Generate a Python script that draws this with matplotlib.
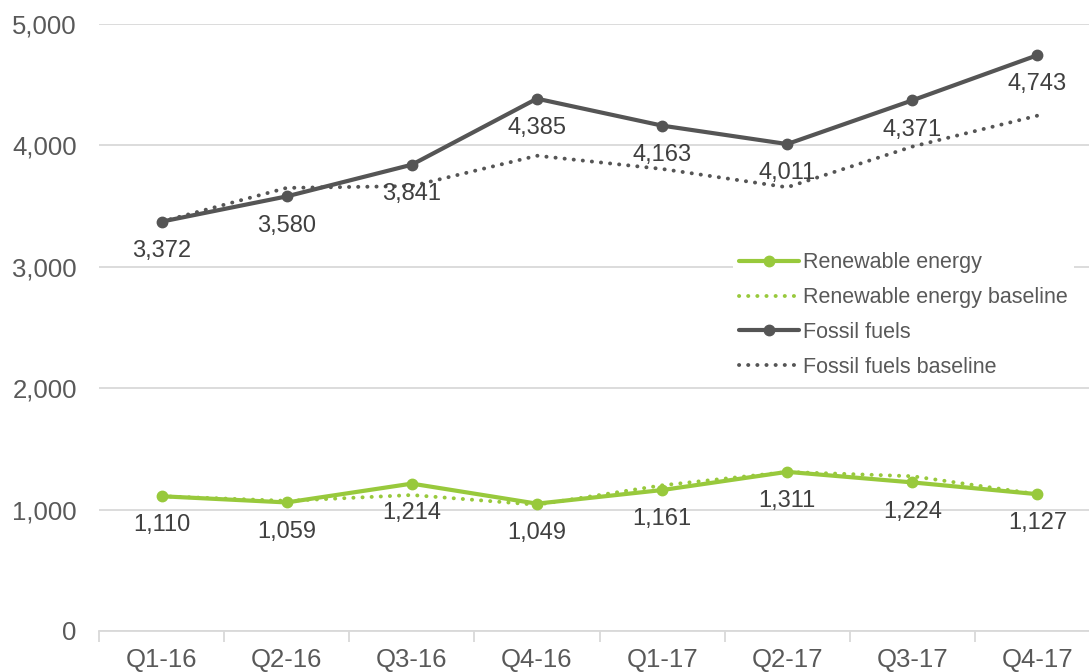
import matplotlib
matplotlib.use("Agg")
import matplotlib.pyplot as plt
from matplotlib.ticker import FuncFormatter, FixedLocator

quarters = ["Q1-16", "Q2-16", "Q3-16", "Q4-16", "Q1-17", "Q2-17", "Q3-17", "Q4-17"]
renewable = [1110, 1059, 1214, 1049, 1161, 1311, 1224, 1127]
renewable_baseline = [1110, 1072, 1120, 1040, 1200, 1310, 1275, 1127]
fossil = [3372, 3580, 3841, 4385, 4163, 4011, 4371, 4743]
fossil_baseline = [3372, 3650, 3665, 3915, 3806, 3655, 3990, 4245]

GREEN = "#98C93C"
DARK = "#555555"
TEXT = "#595959"
GRID = "#D9D9D9"
DOTS = (0, (0.05, 2.3))

plt.rcParams["font.family"] = ["Liberation Sans", "DejaVu Sans"]

fig = plt.figure(figsize=(10.89, 6.72), dpi=100)
ax = fig.add_axes([99 / 1089, 41 / 672, 1001 / 1089, 607 / 672])

x = list(range(len(quarters)))

ax.plot(x, renewable, color=GREEN, lw=3, marker="o", ms=7.5,
        label="Renewable energy", zorder=4, solid_capstyle="round")
ax.plot(x, renewable_baseline, color=GREEN, lw=2.8, linestyle=DOTS,
        dash_capstyle="round", label="Renewable energy baseline", zorder=3)
ax.plot(x, fossil, color=DARK, lw=3, marker="o", ms=7.5,
        label="Fossil fuels", zorder=4, solid_capstyle="round")
ax.plot(x, fossil_baseline, color=DARK, lw=2.8, linestyle=DOTS,
        dash_capstyle="round", label="Fossil fuels baseline", zorder=3)

# data labels under the points
for xi, v in zip(x, renewable):
    ax.annotate(f"{v:,}", (xi, v), xytext=(0, -21), textcoords="offset points",
                ha="center", va="center", fontsize=17, color="#404040", zorder=5)
for xi, v in zip(x, fossil):
    ax.annotate(f"{v:,}", (xi, v), xytext=(0, -21), textcoords="offset points",
                ha="center", va="center", fontsize=17, color="#404040", zorder=5)

ax.set_xlim(-0.5, len(quarters) - 0.5)
ax.set_ylim(0, 5000)
ax.set_yticks(range(0, 5001, 1000))
ax.yaxis.set_major_formatter(FuncFormatter(lambda v, p: f"{int(v):,}"))
ax.grid(axis="y", color=GRID, lw=1.3)
ax.set_axisbelow(True)

ax.set_xticks(x)
ax.set_xticklabels(quarters)
ax.xaxis.set_minor_locator(FixedLocator([i - 0.5 for i in range(len(quarters) + 1)]))
ax.tick_params(axis="x", which="major", length=0, pad=12, labelsize=18.5, labelcolor=TEXT)
ax.tick_params(axis="x", which="minor", length=8, width=1.3, color=GRID)
ax.tick_params(axis="y", length=0, pad=16, labelsize=18.5, labelcolor=TEXT)

for s in ["top", "right", "left"]:
    ax.spines[s].set_visible(False)
ax.spines["bottom"].set_color(GRID)
ax.spines["bottom"].set_linewidth(1.3)

leg = fig.legend(loc="upper left", bbox_to_anchor=(733 / 1089, 1 - 246 / 672),
                 fontsize=15.5, frameon=True, handlelength=2.75, handletextpad=0.2,
                 labelspacing=0.64, borderpad=0.3, borderaxespad=0, fancybox=False)
leg.get_frame().set_facecolor("white")
leg.get_frame().set_edgecolor("none")
leg.get_frame().set_alpha(1)
for t in leg.get_texts():
    t.set_color(TEXT)

fig.savefig("out.png", dpi=100)
